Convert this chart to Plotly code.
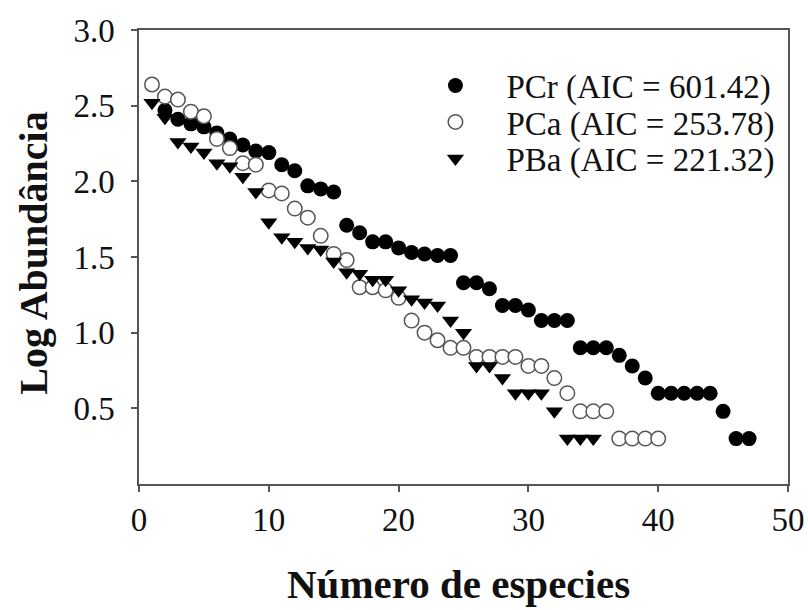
import plotly.graph_objects as go

# Rank (species number) and log abundance per site
pcr_x = list(range(2, 48))
pcr_y = [2.47, 2.41, 2.38, 2.36, 2.32, 2.28, 2.24, 2.20, 2.19, 2.11, 2.07, 1.97, 1.95, 1.93,
         1.71, 1.66, 1.60, 1.60, 1.56, 1.53, 1.52, 1.51, 1.51,
         1.33, 1.33, 1.29, 1.18, 1.18, 1.15, 1.08, 1.08, 1.08,
         0.90, 0.90, 0.90, 0.85, 0.78, 0.70,
         0.60, 0.60, 0.60, 0.60, 0.60, 0.48, 0.30, 0.30]

pca_x = list(range(1, 41))
pca_y = [2.64, 2.56, 2.54, 2.46, 2.43, 2.28, 2.22, 2.12, 2.11, 1.94,
         1.92, 1.82, 1.76, 1.64, 1.52, 1.48, 1.30, 1.30, 1.28, 1.23,
         1.08, 1.00, 0.95, 0.90, 0.90, 0.84, 0.84, 0.84, 0.84, 0.78,
         0.78, 0.70, 0.60, 0.48, 0.48, 0.48, 0.30, 0.30, 0.30, 0.30]

pba_x = list(range(1, 36))
pba_y = [2.52, 2.42, 2.26, 2.23, 2.19, 2.12, 2.10, 2.03, 1.93, 1.73,
         1.63, 1.60, 1.56, 1.55, 1.47, 1.40, 1.39, 1.35, 1.35, 1.28,
         1.22, 1.20, 1.18, 1.08, 1.00, 0.78, 0.78, 0.70, 0.60, 0.60,
         0.60, 0.48, 0.30, 0.30, 0.30]

names = ["PCr (AIC = 601.42)", "PCa (AIC = 253.78)", "PBa (AIC = 221.32)"]
x_ticks = [0, 10, 20, 30, 40, 50]
y_ticks = [0.5, 1.0, 1.5, 2.0, 2.5, 3.0]
y_tick_text = ["0.5", "1.0", "1.5", "2.0", "2.5", "3.0"]

SERIF = "Liberation Serif, Times New Roman, serif"

fig = go.Figure()
fig.add_trace(go.Scatter(x=pcr_x, y=pcr_y, mode="markers", name=names[0], legend="legend",
                         marker=dict(symbol="circle", size=15, color="black",
                                     line=dict(width=0))))
fig.add_trace(go.Scatter(x=pca_x, y=pca_y, mode="markers", name=names[1], legend="legend2",
                         marker=dict(symbol="circle", size=14.5, color="white",
                                     line=dict(width=1.5, color="#555555"))))
fig.add_trace(go.Scatter(x=pba_x, y=pba_y, mode="markers", name=names[2], legend="legend3",
                         marker=dict(symbol="triangle-down", size=15, color="black",
                                     line=dict(width=0))))

axis_common = dict(showline=True, linecolor="#555555", linewidth=1.5, mirror=True,
                   ticks="outside", ticklen=6, tickwidth=1.5, tickcolor="#555555",
                   showgrid=False, zeroline=False,
                   tickfont=dict(family=SERIF, size=33, color="#111111"))

fig.update_xaxes(range=[0, 50], tickvals=x_ticks, ticklabelstandoff=0, **axis_common)
fig.update_yaxes(range=[0, 3], tickvals=y_ticks, ticktext=y_tick_text,
                 ticklabelstandoff=10, **axis_common)

leg_common = dict(xanchor="left", yanchor="middle", bgcolor="rgba(0,0,0,0)",
                  itemwidth=92, font=dict(family=SERIF, size=33, color="#111111"))

fig.update_layout(
    width=808, height=610,
    margin=dict(l=139, r=20, t=30, b=126, autoexpand=False),
    paper_bgcolor="white", plot_bgcolor="white",
    showlegend=True,
    legend=dict(x=0.409, y=0.8777, **leg_common),
    legend2=dict(x=0.409, y=0.7974, **leg_common),
    legend3=dict(x=0.409, y=0.7170, **leg_common),
    annotations=[
        dict(text="<b>Número de especies</b>", xref="paper", yref="paper",
             x=0.492, y=-0.165, xanchor="center", yanchor="top", showarrow=False,
             font=dict(family=SERIF, size=41, color="#111111")),
        dict(text="<b>Log Abundância</b>", xref="paper", yref="paper",
             x=-0.162, y=0.509, xanchor="center", yanchor="middle", showarrow=False,
             textangle=-90, font=dict(family=SERIF, size=40, color="#111111")),
    ],
)

fig.write_html(
    "out.html",
    config={"displayModeBar": False},
    post_script="document.body.style.margin='0';"
                "document.body.style.overflow='hidden';"
                "document.documentElement.style.overflow='hidden';",
)
